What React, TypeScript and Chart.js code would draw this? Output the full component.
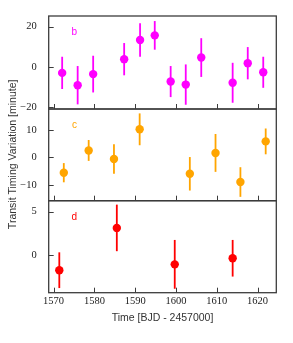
import React, { useEffect, useRef } from "react";
import { Chart, registerables } from "chart.js";

Chart.register(...registerables);

// ---- data ----
const xTicks = [1570, 1580, 1590, 1600, 1610, 1620];
const xRange = [1568.8, 1624.6];

const bTimes = [1572.1, 1575.9, 1579.7, 1587.3, 1591.2, 1594.8, 1598.7, 1602.4, 1606.2, 1613.9, 1617.6, 1621.4];
const bTTV = [-2.9, -9.0, -3.5, 3.9, 13.4, 15.7, -7.2, -8.7, 4.7, -7.8, 1.9, -2.6];
const bErr = [8.0, 9.5, 9.1, 8.0, 8.3, 7.1, 7.7, 10.0, 9.6, 9.9, 8.0, 7.7];
const bTicks = [-20, 0, 20];
const bRange = [-20.8, 25.3];

const cTimes = [1572.5, 1578.6, 1584.8, 1591.1, 1603.4, 1609.7, 1615.8, 1622.0];
const cTTV = [-5.6, 2.5, -0.6, 10.2, -6.0, 1.6, -9.0, 5.8];
const cErr = [3.5, 3.8, 5.4, 5.8, 6.1, 6.9, 5.4, 4.7];
const cTicks = [-10, 0, 10];
const cRange = [-15.8, 17.6];

const dTimes = [1571.4, 1585.5, 1599.7, 1613.9];
const dTTV = [-1.72, 3.13, -1.05, -0.35];
const dErr = [2.05, 2.67, 2.8, 2.1];
const dTicks = [0, 5];
const dRange = [-4.3, 6.25];

const panelNames = ["b", "c", "d"];
const panelColors = ["#ff00ff", "#ffa500", "#ff0000"];
const labelPos = [
  [1575.1, 17.2],
  [1575.1, 11.7],
  [1575.1, 4.4],
];

const xTitle = "Time [BJD - 2457000]";
const yTitle = "Transit Timing Variation [minute]";

const AXIS_COLOR = "#3c3c3c";
const SERIF = "'Liberation Serif', 'DejaVu Serif', serif";
const SANS = "'Liberation Sans', 'DejaVu Sans', sans-serif";

const errs = [bErr, cErr, dErr];
const axisIds = ["yb", "yc", "yd"];

const panelPlugin = {
  id: "panelPlugin",
  beforeDatasetsDraw(chart: any) {
    const ctx = chart.ctx;
    ctx.save();
    chart.data.datasets.forEach((ds: any, i: number) => {
      const meta = chart.getDatasetMeta(i);
      const ys = chart.scales[axisIds[i]];
      ctx.strokeStyle = panelColors[i];
      ctx.lineWidth = 1.8;
      meta.data.forEach((pt: any, j: number) => {
        const v = ds.data[j].y;
        const e = errs[i][j];
        ctx.beginPath();
        ctx.moveTo(pt.x, ys.getPixelForValue(v + e));
        ctx.lineTo(pt.x, ys.getPixelForValue(v - e));
        ctx.stroke();
      });
    });
    ctx.restore();
  },
  afterDraw(chart: any) {
    const ctx = chart.ctx;
    const xs = chart.scales.x;
    const left = chart.chartArea.left;
    const right = chart.chartArea.right;
    ctx.save();
    axisIds.forEach((id, i) => {
      const ys = chart.scales[id];
      // border
      ctx.strokeStyle = AXIS_COLOR;
      ctx.lineWidth = 1.3;
      ctx.strokeRect(left, ys.top, right - left, ys.bottom - ys.top);
      // y ticks inward
      ctx.lineWidth = 1;
      ys.ticks.forEach((t: any) => {
        const py = Math.round(ys.getPixelForValue(t.value)) + 0.5;
        ctx.beginPath();
        ctx.moveTo(left, py);
        ctx.lineTo(left + 5, py);
        ctx.stroke();
      });
      // x ticks inward at bottom of each panel
      xTicks.forEach((v) => {
        const px = Math.round(xs.getPixelForValue(v)) + 0.5;
        ctx.beginPath();
        ctx.moveTo(px, ys.bottom);
        ctx.lineTo(px, ys.bottom - 5);
        ctx.stroke();
      });
      // panel label
      ctx.fillStyle = panelColors[i];
      ctx.font = `10px ${SANS}`;
      ctx.textAlign = "center";
      ctx.textBaseline = "middle";
      ctx.fillText(
        panelNames[i],
        xs.getPixelForValue(labelPos[i][0]),
        ys.getPixelForValue(labelPos[i][1])
      );
    });
    // x tick labels
    const bottom = chart.chartArea.bottom;
    ctx.fillStyle = "#222";
    ctx.font = `10.5px ${SERIF}`;
    ctx.textAlign = "center";
    ctx.textBaseline = "middle";
    xTicks.forEach((v) => {
      ctx.fillText(String(v), xs.getPixelForValue(v), bottom + 8.5);
    });
    // titles
    ctx.fillStyle = "#333";
    ctx.font = `10.5px ${SANS}`;
    ctx.fillText(xTitle, (left + right) / 2, 318);
    ctx.translate(13.5, (chart.chartArea.top + chart.chartArea.bottom) / 2);
    ctx.rotate(-Math.PI / 2);
    ctx.fillText(yTitle, 0, 0);
    ctx.restore();
  },
};

function toPoints(xs: number[], ys: number[]) {
  return xs.map((x, i) => ({ x, y: ys[i] }));
}

function yAxis(range: number[], ticks: number[], weight: number) {
  return {
    type: "linear" as const,
    position: "left" as const,
    stack: "panels",
    stackWeight: weight,
    min: range[0],
    max: range[1],
    grid: { display: false },
    border: { display: false },
    afterBuildTicks: (scale: any) => {
      scale.ticks = ticks.map((v) => ({ value: v }));
    },
    afterFit: (scale: any) => {
      scale.width = 48.7;
    },
    ticks: {
      padding: 4,
      color: "#222",
      font: { family: SERIF, size: 10.5 },
      callback: (v: any) => String(v).replace("-", "\u2212"),
    },
  };
}

export default function App() {
  const ref = useRef<HTMLCanvasElement | null>(null);
  useEffect(() => {
    if (!ref.current) return;
    const chart = new Chart(ref.current, {
      type: "scatter",
      data: {
        datasets: [
          {
            label: "b",
            data: toPoints(bTimes, bTTV),
            yAxisID: "yb",
            backgroundColor: panelColors[0],
            borderColor: panelColors[0],
            pointRadius: 4.2,
            pointBorderWidth: 0,
          },
          {
            label: "c",
            data: toPoints(cTimes, cTTV),
            yAxisID: "yc",
            backgroundColor: panelColors[1],
            borderColor: panelColors[1],
            pointRadius: 4.2,
            pointBorderWidth: 0,
          },
          {
            label: "d",
            data: toPoints(dTimes, dTTV),
            yAxisID: "yd",
            backgroundColor: panelColors[2],
            borderColor: panelColors[2],
            pointRadius: 4.2,
            pointBorderWidth: 0,
          },
        ],
      },
      options: {
        responsive: false,
        animation: false,
        layout: { padding: { top: 16, right: 16.7, bottom: 0, left: 0 } },
        plugins: { legend: { display: false }, tooltip: { enabled: false } },
        scales: {
          x: {
            type: "linear",
            min: xRange[0],
            max: xRange[1],
            grid: { display: false },
            border: { display: false },
            afterBuildTicks: (scale: any) => {
              scale.ticks = xTicks.map((v) => ({ value: v }));
            },
            afterFit: (scale: any) => {
              scale.height = 50.3;
            },
            ticks: { display: false },
          },
          yd: yAxis(dRange, dTicks, 92),
          yc: yAxis(cRange, cTicks, 91.7),
          yb: yAxis(bRange, bTicks, 93),
        },
      },
      plugins: [panelPlugin],
    });
    return () => chart.destroy();
  }, []);
  return (
    <div style={{ position: "absolute", left: 0, top: 0, width: 293, height: 343, background: "#fff" }}>
      <canvas ref={ref} width={293} height={343} style={{ display: "block" }} />
    </div>
  );
}
